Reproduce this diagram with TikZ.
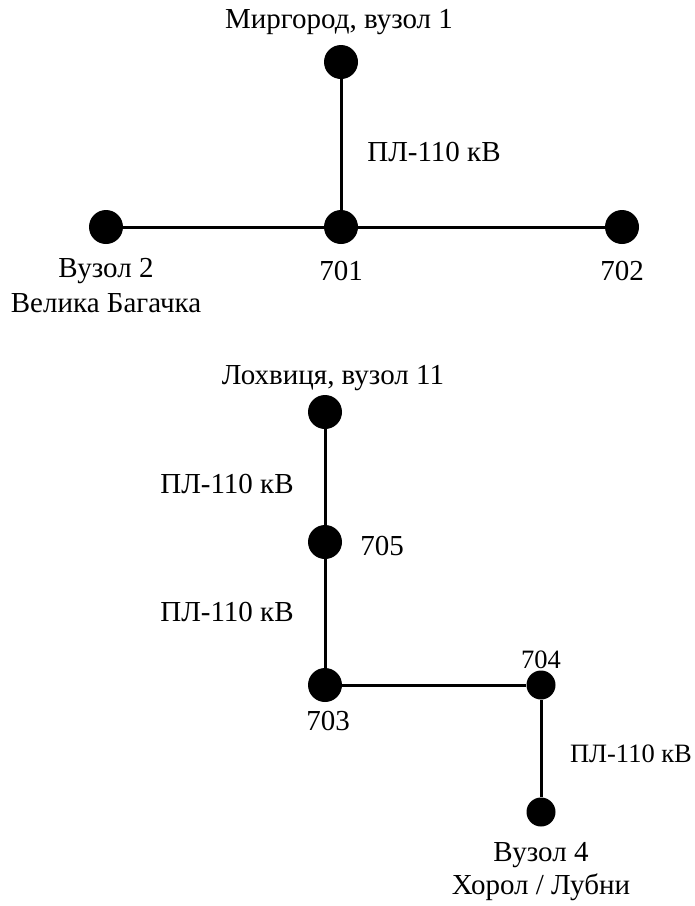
\documentclass[tikz,border=0pt]{standalone}
\usepackage{fontspec}
\setmainfont{Liberation Serif}
\begin{document}
\begin{tikzpicture}[x=1pt,y=-1pt,
  dot/.style={circle,fill=black,inner sep=0pt,minimum size=34pt},
  sdot/.style={circle,fill=black,inner sep=0pt,minimum size=29pt},
  lbl/.style={inner sep=0pt,font=\fontsize{29}{34}\selectfont},
  slbl/.style={inner sep=0pt,font=\fontsize{26.5}{31}\selectfont},
  wire/.style={line width=3pt}]
\useasboundingbox (0,0) rectangle (695,906);
% upper group
\node[dot] (mir) at (341,62) {};
\node[dot] (n701) at (341,227) {};
\node[dot] (vb) at (106,227) {};
\node[dot] (n702) at (622,227) {};
\draw[wire] (mir) -- (n701);
\draw[wire] (vb) -- (n701) -- (n702);
\node[lbl] (tmir) at (339,22) {Миргород, вузол 1};
\node[lbl] (pl1) at (434,152) {ПЛ-110 кВ};
\node[lbl] (t701) at (341,271) {701};
\node[lbl] (t702) at (622,271) {702};
\node[lbl] (tvb1) at (106,271) {Вузол 2};
\node[lbl] (tvb2) at (106,303) {Велика Багачка};
% lower group
\node[dot] (lox) at (325,412) {};
\node[dot] (n705) at (325,542) {};
\node[dot] (n703) at (325,685) {};
\node[sdot] (n704) at (541,685) {};
\node[sdot] (v4) at (541,812) {};
\draw[wire] (lox) -- (n705) -- (n703) -- (n704) -- (v4);
\node[lbl] (tlox) at (333,378) {Лохвиця, вузол 11};
\node[lbl] (pl2) at (227,484) {ПЛ-110 кВ};
\node[lbl] (t705) at (382,546) {705};
\node[lbl] (pl3) at (227,612) {ПЛ-110 кВ};
\node[lbl] (t703) at (328,721) {703};
\node[slbl] (t704) at (541,660) {704};
\node[slbl] (pl4) at (631,754) {ПЛ-110 кВ};
\node[lbl] (tv41) at (541,855) {Вузол 4};
\node[lbl] (tv42) at (541,887) {Хорол / Лубни};
\end{tikzpicture}
\end{document}
